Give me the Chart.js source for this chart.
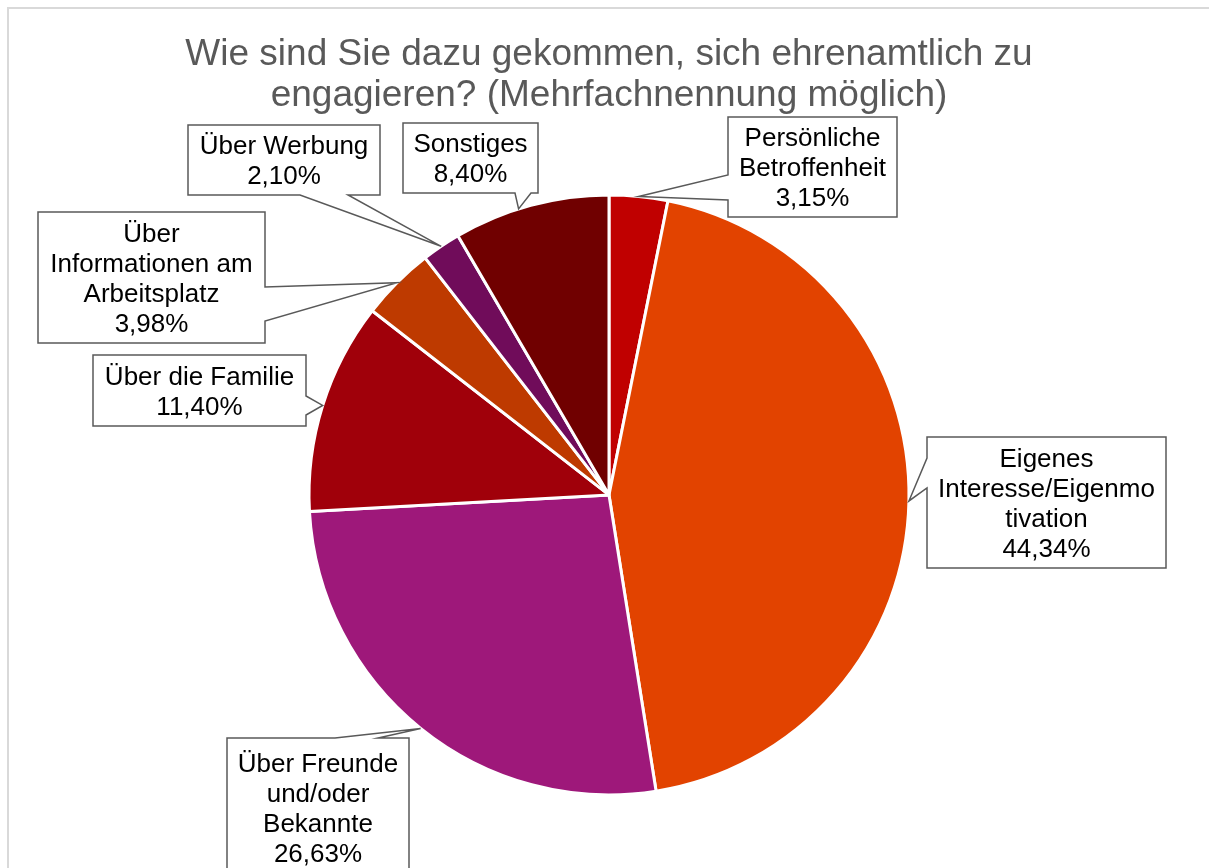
<!DOCTYPE html>
<html>
<head>
<meta charset="utf-8">
<script src="https://cdn.jsdelivr.net/npm/chart.js@4"></script>
<style>
  body { margin: 0; background: #fff; }
  #wrap { position: relative; width: 1209px; height: 868px; overflow: hidden; }
  #frame { position: absolute; left: 7px; top: 7px; width: 1300px; height: 1000px;
           border-left: 2px solid #d9d9d9; border-top: 2px solid #d9d9d9; }
  #chart { position: absolute; left: 0; top: 0; }
</style>
</head>
<body>
<div id="wrap">
  <div id="frame"></div>
  <canvas id="chart" width="1209" height="868"></canvas>
</div>
<script>
var categories = [
    ['Persönliche', 'Betroffenheit'],
    ['Eigenes', 'Interesse/Eigenmo', 'tivation'],
    ['Über Freunde', 'und/oder', 'Bekannte'],
    ['Über die Familie'],
    ['Über', 'Informationen am', 'Arbeitsplatz'],
    ['Über Werbung'],
    ['Sonstiges']
];
var values = [3.15, 44.34, 26.63, 11.40, 3.98, 2.10, 8.40];
var sliceColors = ['#c00000', '#e24300', '#9e187a', '#a0000a', '#be3a00', '#700c5a', '#700000'];

// callout boxes: x, y, w, h, side of the pointer, pointer base a..b, where on the arc it points
var boxes = [
    {x: 728, y: 117, w: 169, h: 100, side: 'left',   a: 175, b: 200, frac: 0.5},
    {x: 927, y: 437, w: 239, h: 131, side: 'left',   a: 458, b: 488, frac: 0.5},
    {x: 227, y: 738, w: 182, h: 140, side: 'top',    a: 335, b: 378, frac: 0.5},
    {x: 93,  y: 355, w: 213, h: 71,  side: 'right',  a: 396, b: 415, frac: 0.5},
    {x: 38,  y: 212, w: 227, h: 131, side: 'right',  a: 287, b: 321, frac: 0.5},
    {x: 188, y: 125, w: 192, h: 70,  side: 'bottom', a: 300, b: 348, frac: 0.5},
    {x: 403, y: 123, w: 135, h: 70,  side: 'bottom', a: 515, b: 531, frac: 0.42}
];

function fmt(v) {
    return v.toFixed(2).replace('.', ',') + '%';
}

function calloutPath(ctx, bx, tx, ty) {
    var x = bx.x, y = bx.y, w = bx.w, h = bx.h;
    ctx.beginPath();
    ctx.moveTo(x, y);
    if (bx.side == 'top') {
        ctx.lineTo(bx.a, y); ctx.lineTo(tx, ty); ctx.lineTo(bx.b, y);
    }
    ctx.lineTo(x + w, y);
    if (bx.side == 'right') {
        ctx.lineTo(x + w, bx.a); ctx.lineTo(tx, ty); ctx.lineTo(x + w, bx.b);
    }
    ctx.lineTo(x + w, y + h);
    if (bx.side == 'bottom') {
        ctx.lineTo(bx.b, y + h); ctx.lineTo(tx, ty); ctx.lineTo(bx.a, y + h);
    }
    ctx.lineTo(x, y + h);
    if (bx.side == 'left') {
        ctx.lineTo(x, bx.b); ctx.lineTo(tx, ty); ctx.lineTo(x, bx.a);
    }
    ctx.closePath();
}

const calloutPlugin = {
    id: 'callouts',
    afterDatasetsDraw(chart) {
        const ctx = chart.ctx;
        const meta = chart.getDatasetMeta(0);
        ctx.save();
        meta.data.forEach(function (arc, i) {
            const p = arc.getProps(['x', 'y', 'startAngle', 'endAngle', 'outerRadius'], true);
            const bx = boxes[i];
            const ang = p.startAngle + bx.frac * (p.endAngle - p.startAngle);
            const tx = p.x + Math.cos(ang) * p.outerRadius;
            const ty = p.y + Math.sin(ang) * p.outerRadius;

            calloutPath(ctx, bx, tx, ty);
            ctx.fillStyle = '#ffffff';
            ctx.fill();
            ctx.lineWidth = 1.5;
            ctx.strokeStyle = '#595959';
            ctx.stroke();

            const lines = categories[i].concat([fmt(values[i])]);
            const lh = 30;
            const cy = bx.y + bx.h / 2 - (lines.length - 1) * lh / 2 + 2;
            ctx.fillStyle = '#000000';
            ctx.font = '26px "Liberation Sans", Arial, sans-serif';
            ctx.textAlign = 'center';
            ctx.textBaseline = 'middle';
            lines.forEach(function (t, k) {
                ctx.fillText(t, bx.x + bx.w / 2, cy + k * lh);
            });
        });
        ctx.restore();
    }
};

const data = {
    labels: categories.map(function (c) { return c.join(' '); }),
    datasets: [{
        data: values,
        backgroundColor: sliceColors,
        borderColor: '#ffffff',
        borderWidth: 3
    }]
};

const config = {
    type: 'pie',
    data: data,
    options: {
        responsive: false,
        animation: false,
        radius: 300,
        layout: {
            padding: {top: 8, left: 9, right: 0, bottom: 0}
        },
        plugins: {
            legend: {display: false},
            tooltip: {enabled: false},
            title: {
                display: true,
                text: ['Wie sind Sie dazu gekommen, sich ehrenamtlich zu', 'engagieren? (Mehrfachnennung möglich)'],
                color: '#595959',
                font: {family: '"Liberation Sans", Arial, sans-serif', size: 37, weight: 'normal', lineHeight: 1.12},
                padding: {top: 26, bottom: 5}
            }
        }
    },
    plugins: [calloutPlugin]
};

const myChart = new Chart(document.getElementById('chart'), config);
</script>
</body>
</html>
